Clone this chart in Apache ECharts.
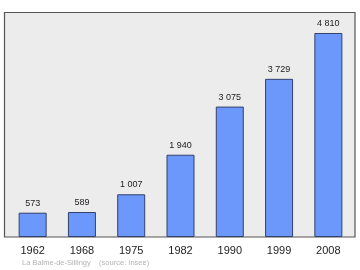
<!DOCTYPE html>
<html><head><meta charset="utf-8">
<script src="https://cdn.jsdelivr.net/npm/echarts@6/dist/echarts.min.js"></script>
<style>html,body{margin:0;padding:0;background:#fff}#c{width:360px;height:270px}</style>
</head><body><div id="c"></div>
<script>
var years = ['1962','1968','1975','1982','1990','1999','2008'];
var population = [573, 589, 1007, 1940, 3075, 3729, 4810];
var caption = 'La Balme-de-Sillingy    (source: Insee)';

function fmt(v){ return String(v).replace(/\B(?=(\d{3})+(?!\d))/g, ' '); }

var chart = echarts.init(document.getElementById('c'), null, {renderer:'canvas'});
chart.setOption({
  animation: false,
  backgroundColor: '#ffffff',
  textStyle: {fontFamily: 'Liberation Sans, Arial, sans-serif'},
  graphic: [
    {type:'rect', z:-10, shape:{x:4.5, y:12.5, width:350.5, height:224.5},
     style:{fill:'#ececec', stroke:'#555555', lineWidth:1.2}},
    {type:'text', left:22, top:259,
     style:{text:caption, fill:'#b4b4b4', font:'7.5px "Liberation Sans", Arial, sans-serif'}}
  ],
  grid: {left: 8, right: 7, top: 12, bottom: 33},
  xAxis: {
    type: 'category', data: years,
    axisLine: {show:false}, axisTick: {show:false},
    axisLabel: {color:'#222222', fontSize:11, margin:8, fontFamily:'Liberation Sans, Arial, sans-serif'}
  },
  yAxis: {type:'value', min:0, max:5305, show:false, splitLine:{show:false}},
  series: [{
    type: 'bar', data: population, barWidth: 28,
    itemStyle: {color:'#6b98fa', borderColor:'#33406b', borderWidth:1},
    label: {show:true, position:'top', distance:5, color:'#222222', fontSize:9,
      fontFamily:'Liberation Sans, Arial, sans-serif',
      formatter: function(p){ return fmt(p.value); }}
  }]
});
</script></body></html>
